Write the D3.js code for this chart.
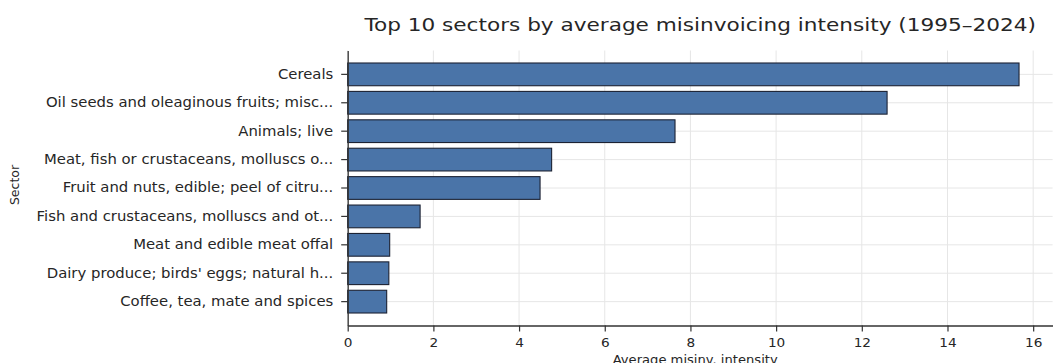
<!DOCTYPE html>
<html>
<head>
<meta charset="utf-8">
<script src="https://cdn.jsdelivr.net/npm/d3@7"></script>
<style>
  html, body { margin: 0; padding: 0; background: #fff; }
  svg { display: block; font-family: "DejaVu Sans", sans-serif; }
</style>
</head>
<body>
<div id="chart"></div>
<script>
// dữ liệu
const sectors = [
  "Cereals",
  "Oil seeds and oleaginous fruits; misc...",
  "Animals; live",
  "Meat, fish or crustaceans, molluscs o...",
  "Fruit and nuts, edible; peel of citru...",
  "Fish and crustaceans, molluscs and ot...",
  "Meat and edible meat offal",
  "Dairy produce; birds' eggs; natural h...",
  "Coffee, tea, mate and spices"
];
const intensity = [15.67, 12.59, 7.64, 4.76, 4.49, 1.69, 0.98, 0.96, 0.91];
const xTicks = [0, 2, 4, 6, 8, 10, 12, 14, 16];

const W = 1053, H = 363;
const margin = { top: 50.5, right: 0.4, bottom: 37.5, left: 347.7 };
const width = W - margin.left - margin.right;
const height = H - margin.top - margin.bottom;

const textCol = "#262626";
const gridCol = "#e6e6e6";
const sx = 1.1; // hình gốc bị giãn ngang

const data = sectors.map((s, i) => ({ sector: s, value: intensity[i] }));

const svg = d3.select("#chart").append("svg")
  .attr("width", W)
  .attr("height", H);

const g = svg.append("g")
  .attr("transform", `translate(${margin.left},${margin.top})`);

const x = d3.scaleLinear()
  .domain([0, d3.max(intensity) * 1.05])
  .range([0, width]);

const y = d3.scaleBand()
  .domain(sectors)
  .range([0, height])
  .paddingInner(0.2)
  .paddingOuter(0.44);

// ==== lưới ====
g.append("g")
  .selectAll("line")
  .data(xTicks)
  .join("line")
    .attr("x1", d => x(d)).attr("x2", d => x(d))
    .attr("y1", 0).attr("y2", height)
    .attr("stroke", gridCol).attr("stroke-width", 1);

g.append("g")
  .selectAll("line")
  .data(sectors)
  .join("line")
    .attr("x1", 0).attr("x2", width)
    .attr("y1", d => y(d) + y.bandwidth() / 2)
    .attr("y2", d => y(d) + y.bandwidth() / 2)
    .attr("stroke", gridCol).attr("stroke-width", 1);

// ==== cột ====
g.selectAll(".bar")
  .data(data)
  .join("rect")
    .attr("class", "bar")
    .attr("x", 0)
    .attr("y", d => y(d.sector))
    .attr("width", d => x(d.value))
    .attr("height", y.bandwidth())
    .attr("fill", "#4a74a8")
    .attr("stroke", "#1c2233")
    .attr("stroke-width", 1.1);

// ==== trục ====
const xAxis = g.append("g")
  .attr("transform", `translate(0,${height})`)
  .call(d3.axisBottom(x).tickValues(xTicks).tickFormat(d3.format("d")).tickSize(6).tickPadding(7).tickSizeOuter(0));

const yAxis = g.append("g")
  .call(d3.axisLeft(y).tickSize(6.5).tickPadding(7).tickSizeOuter(0));

[xAxis, yAxis].forEach(ax => {
  ax.select(".domain").attr("stroke", "#333").attr("stroke-width", 1.3);
  ax.selectAll(".tick line").attr("stroke", "#333").attr("stroke-width", 1.2);
  ax.selectAll("text")
    .attr("fill", textCol)
    .style("font-family", "DejaVu Sans, sans-serif");
});

xAxis.selectAll("text")
  .style("font-size", "12.4px")
  .attr("transform", `scale(${sx},1)`)
  .attr("x", 0);

yAxis.selectAll("text")
  .style("font-size", "13.5px")
  .attr("x", -13.5 / sx * 1.07)
  .attr("transform", `scale(${sx},1)`);

// ==== nhãn ====
svg.append("text")
  .attr("transform", `translate(${margin.left + width / 2},31) scale(1.2,1)`)
  .attr("text-anchor", "middle")
  .attr("fill", textCol)
  .style("font-size", "18px")
  .text("Top 10 sectors by average misinvoicing intensity (1995–2024)");

svg.append("text")
  .attr("transform", `translate(${margin.left + width / 2 - 5},364) scale(1.05,1)`)
  .attr("text-anchor", "middle")
  .attr("fill", textCol)
  .style("font-size", "12.5px")
  .text("Average misinv. intensity");

svg.append("text")
  .attr("transform", `translate(19,${margin.top + height / 2 - 3}) rotate(-90)`)
  .attr("text-anchor", "middle")
  .attr("fill", textCol)
  .style("font-size", "12.5px")
  .text("Sector");
</script>
</body>
</html>
